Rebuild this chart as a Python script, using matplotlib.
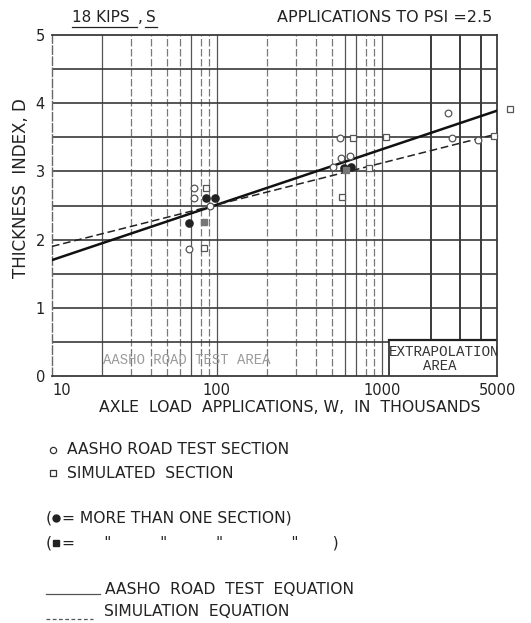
import numpy as np
import matplotlib
matplotlib.use("Agg")
import matplotlib.pyplot as plt
from matplotlib.lines import Line2D

# ---------------- data ----------------
aasho_x = [68, 73, 73, 91, 561, 566, 640, 504, 2523, 2667, 3838]
aasho_y = [1.86, 2.75, 2.61, 2.50, 3.49, 3.19, 3.22, 3.07, 3.85, 3.49, 3.46]

sim_x = [86, 84, 574, 667, 834, 1067, 4777, 6030]
sim_y = [2.75, 1.87, 2.63, 3.49, 3.05, 3.51, 3.52, 3.91]

multi_aasho_x = [68, 86, 97, 587, 650]
multi_aasho_y = [2.25, 2.61, 2.61, 3.05, 3.07]

multi_sim_x = [84, 605]
multi_sim_y = [2.26, 3.02]

eq_x = [10, 5000]
aasho_eq_y = [1.70, 3.89]
sim_eq_y = [1.90, 3.55]

x_ticks = [10, 100, 1000, 5000]
x_tick_labels = ["10", "100", "1000", "5000"]
y_ticks = [0, 1, 2, 3, 4, 5]

# ---------------- figure ----------------
W, H = 531, 623
fig = plt.figure(figsize=(W / 100, H / 100), dpi=100)
plt.rcParams['font.family'] = ['DejaVu Sans']
TXT = '#222222'
GRID = '#3a3a3a'

ax = fig.add_axes([52 / W, 1 - 376 / H, (497 - 52) / W, (376 - 35) / H])
ax.set_xscale('log')
ax.set_xlim(10, 5000)
ax.set_ylim(0, 5)

# grid like log paper
vlines = list(range(20, 100, 10)) + list(range(100, 1000, 100)) + list(range(1000, 5000, 1000))
for v in vlines:
    heavy = v >= 2000
    solid = heavy or v in (20, 70, 100, 600, 700, 1000)
    ax.axvline(v, color=GRID if heavy else ('#555555' if solid else '#7a7a7a'),
               lw=1.4 if heavy else 0.9,
               ls='-' if solid else (0, (6, 2)), zorder=1)
for h in np.arange(0.5, 5.0, 0.5):
    ax.axhline(h, color=GRID, lw=1.2, zorder=1)

for s in ['top', 'bottom', 'right']:
    ax.spines[s].set_color(GRID)
    ax.spines[s].set_linewidth(1.3)
ax.spines['left'].set_color('#666666')
ax.spines['left'].set_linewidth(1.0)
ax.spines['left'].set_linestyle((0, (6, 2)))

# equations
ax.plot(eq_x, aasho_eq_y, color='#111111', lw=1.8, zorder=3)
ax.plot(eq_x, sim_eq_y, color='#222222', lw=1.1, ls=(0, (5, 2.5)), zorder=3)

# points
ax.plot(aasho_x, aasho_y, ls='none', marker='o', ms=4.8, mfc='white', mec='#555555', mew=0.9,
        zorder=4, clip_on=False)
ax.plot(sim_x, sim_y, ls='none', marker='s', ms=4.3, mfc='white', mec='#555555', mew=0.9,
        zorder=4, clip_on=False)
ax.plot(multi_aasho_x, multi_aasho_y, ls='none', marker='o', ms=5.2, mfc='#222222', mec='#222222',
        zorder=5)
ax.plot(multi_sim_x, multi_sim_y, ls='none', marker='s', ms=4.5, mfc='#777777', mec='#777777',
        zorder=5)

# area labels
ax.text(66, 0.23, "AASHO ROAD TEST AREA", family='Liberation Mono', fontsize=10,
        color='#9a9a9a', ha='center', va='center', zorder=6)
ax.fill_between([1100, 5000], 0, 0.53, color='white', zorder=1.5)
ax.plot([1100, 5000], [0.53, 0.53], color='#222222', lw=1.6, zorder=2)
ax.plot([1100, 1100], [0, 0.53], color='#222222', lw=1.2, zorder=2)
ax.text(2380, 0.35, "EXTRAPOLATION", family='Liberation Mono', fontsize=10.3, color='#333333',
        ha='center', va='center', zorder=6, clip_on=True)
ax.text(2250, 0.14, "AREA", family='Liberation Mono', fontsize=10, color='#333333',
        ha='center', va='center', zorder=6)

# ticks
ax.set_xticks(x_ticks)
ax.set_xticklabels(x_tick_labels)
ax.xaxis.set_minor_locator(matplotlib.ticker.NullLocator())
ax.set_yticks(y_ticks)
ax.tick_params(length=0, labelsize=10.5, colors=TXT, pad=5)
ax.get_xticklabels()[0].set_horizontalalignment('left')

ax.set_ylabel("THICKNESS  INDEX, D", fontsize=12, color=TXT)
ax.yaxis.set_label_coords(-0.05, 0.55)

# header texts
fig.text(72 / W, 1 - 18 / H, "18 KIPS", fontsize=11, color=TXT, ha='left', va='center')
fig.text(138 / W, 1 - 18 / H, ",", fontsize=11, color=TXT, ha='left', va='center')
fig.text(146 / W, 1 - 18 / H, "S", fontsize=11, color=TXT, ha='left', va='center')
fig.add_artist(Line2D([72 / W, 137 / W], [1 - 27 / H, 1 - 27 / H], color=TXT, lw=0.9))
fig.add_artist(Line2D([145 / W, 157 / W], [1 - 27 / H, 1 - 27 / H], color=TXT, lw=0.9))
fig.text(492 / W, 1 - 18 / H, "APPLICATIONS TO PSI =2.5", fontsize=11.5, color=TXT,
         ha='right', va='center')

fig.text(290 / W, 1 - 408 / H, "AXLE  LOAD  APPLICATIONS, W,  IN  THOUSANDS", fontsize=11.3,
         color=TXT, ha='center', va='center')

# legend block
fs = 11.2
fig.add_artist(Line2D([53 / W], [1 - 450 / H], marker='o', ms=4.5, mfc='white', mec='#333333',
                      mew=0.9, ls='none'))
fig.text(67 / W, 1 - 450 / H, "AASHO ROAD TEST SECTION", fontsize=fs, color=TXT, va='center')
fig.add_artist(Line2D([53 / W], [1 - 473 / H], marker='s', ms=4.2, mfc='white', mec='#333333',
                      mew=0.9, ls='none'))
fig.text(67 / W, 1 - 473 / H, "SIMULATED  SECTION", fontsize=fs, color=TXT, va='center')

fig.text(46 / W, 1 - 518 / H, "(", fontsize=fs, color=TXT, va='center')
fig.add_artist(Line2D([56 / W], [1 - 518 / H], marker='o', ms=5, mfc='#222222', mec='#222222',
                      ls='none'))
fig.text(62 / W, 1 - 518 / H, "= MORE THAN ONE SECTION)", fontsize=fs, color=TXT, va='center')
fig.text(46 / W, 1 - 543 / H, "(", fontsize=fs, color=TXT, va='center')
fig.add_artist(Line2D([56 / W], [1 - 543 / H], marker='s', ms=4.5, mfc='#222222', mec='#222222',
                      ls='none'))
fig.text(62 / W, 1 - 543 / H, "=      \"          \"          \"              \"       )",
         fontsize=fs, color=TXT, va='center')

fig.add_artist(Line2D([46 / W, 100 / W], [1 - 594 / H, 1 - 594 / H], color='#555555', lw=0.9))
fig.text(105 / W, 1 - 589 / H, "AASHO  ROAD  TEST  EQUATION", fontsize=fs, color=TXT, va='center')
fig.add_artist(Line2D([46 / W, 93 / W], [1 - 619 / H, 1 - 619 / H], color='#555555', lw=0.9,
                      ls=(0, (3, 2))))
fig.text(104 / W, 1 - 612 / H, "SIMULATION  EQUATION", fontsize=fs, color=TXT, va='center')

fig.savefig("out.png", dpi=100, facecolor='white')
